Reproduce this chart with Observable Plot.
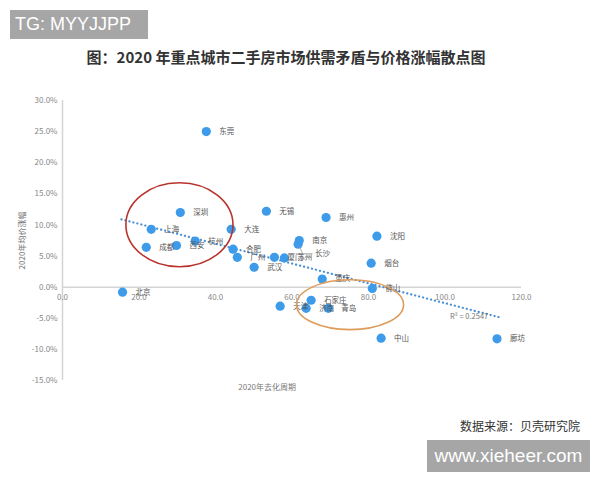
<!DOCTYPE html>
<html><head><meta charset="utf-8">
<script src="https://cdn.jsdelivr.net/npm/d3@7"></script>
<script src="https://cdn.jsdelivr.net/npm/@observablehq/plot@0.6"></script>
<style>
body{margin:0;background:#fff;font-family:"Noto Sans CJK SC",sans-serif;}
#wrap{position:relative;width:600px;height:480px;overflow:hidden;background:#fff;}
#chart{position:absolute;left:0;top:0;}
.tg{position:absolute;left:10px;top:10px;width:138px;height:29px;background:#a6a6a6;color:#fff;font:18px "Liberation Sans",Arial,sans-serif;line-height:29px;padding-left:5px;box-sizing:border-box;}
.title{position:absolute;left:0;width:572px;top:47px;text-align:center;font-weight:bold;font-size:15px;color:#333;line-height:20px;}
.src{position:absolute;right:20px;top:418px;font-size:12px;color:#333;line-height:16px;}
.wm{position:absolute;left:427px;top:440px;width:163px;height:32px;background:#a6a6a6;color:#fff;font:19px "Liberation Sans",Arial,sans-serif;line-height:32px;text-align:center;}
</style></head><body>
<div id="wrap">
  <div id="chart"></div>
  <div class="tg">TG: MYYJJPP</div>
  <div class="title">图：2020 年重点城市二手房市场供需矛盾与价格涨幅散点图</div>
  <div class="src">数据来源：贝壳研究院</div>
  <div class="wm">www.xieheer.com</div>
</div>
<script>
const cities   = ["东莞","深圳","上海","成都","西安","杭州","大连","合肥","广州","武汉","厦门","苏州","南京","长沙","无锡","惠州","沈阳","烟台","重庆","佛山","石家庄","天津","济南","青岛","中山","廊坊","北京"];
const destock  = [37.6,30.8,23.2,21.9,29.8,34.7,44.1,44.6,45.7,50.1,55.4,58.0,61.9,61.6,53.3,68.9,82.2,80.7,67.9,81.0,65.0,56.9,63.7,69.5,83.3,113.6,15.7];
const priceChg = [25.0,12.0,9.3,6.4,6.7,7.4,9.3,6.1,4.8,3.2,4.8,4.7,7.5,6.9,12.2,11.2,8.2,3.85,1.3,-0.2,-2.1,-3.05,-3.4,-3.4,-8.2,-8.3,-0.8];
const xTicks = [0,20,40,60,80,100,120];
const yTicks = [-15,-10,-5,0,5,10,15,20,25,30];
const trendX = [15.4,114];
const trendY = [10.9,-4.8];
const r2Label = "R² = 0.2547";
const r2Pos = [106.3,-4.65];
const xTitle = "2020年去化周期";
const yTitle = "2020年均价涨幅";
// annotation ellipses: [cx, cy, rx, ry] in data units
const redEllipse = [30.7, 9.95, 14.0, 6.74];
const orangeEllipse = [75.3, -2.9, 14.0, 4.0];

const data = cities.map((c,i)=>({city:c,x:destock[i],y:priceChg[i]}));
const trend = trendX.map((x,i)=>({x,y:trendY[i]}));
const blue = "#3d9be9";
const font = "Noto Sans CJK SC";

const plot = Plot.plot({
  width:600, height:480,
  marginLeft:62, marginRight:79, marginTop:100, marginBottom:100,
  style:{fontFamily:font, background:"transparent"},
  x:{domain:[0,120], axis:null},
  y:{domain:[-15,30], axis:null},
  marks:[
    Plot.ruleX([0],{y1:-15,y2:30,stroke:"#d4d4d4",strokeWidth:1.5}),
    Plot.ruleY([0],{x1:0,x2:120,stroke:"#d4d4d4",strokeWidth:1.5}),
    Plot.axisY(yTicks,{tickSize:0,tickPadding:5,tickFormat:d=>d.toFixed(1)+"%",fill:"#888",fontSize:8,label:null}),
    Plot.text(xTicks,{x:d=>d,y:0,text:d=>d.toFixed(1),dy:10,fill:"#888",fontSize:8}),
    Plot.text([xTitle],{x:53.5,y:-15,text:d=>d,fill:"#777",fontSize:8,dy:7}),
    Plot.text([yTitle],{x:0,y:7.5,dx:-40,rotate:-90,text:d=>d,fill:"#777",fontSize:8}),
    Plot.line(trend,{x:"x",y:"y",stroke:"#4a8fd4",strokeWidth:2.2,strokeDasharray:"0.1,4",strokeLinecap:"round"}),
    Plot.dot(data,{x:"x",y:"y",r:4.6,fill:blue}),
    Plot.text(data.filter(d=>d.city!=="长沙"),{x:"x",y:"y",text:"city",textAnchor:"start",dx:13,fill:"#555",fontSize:7.5}),
    Plot.text(data.filter(d=>d.city==="长沙"),{x:"x",y:"y",text:"city",textAnchor:"start",dx:17,dy:9,fill:"#555",fontSize:7.5}),
    Plot.text([r2Label],{x:r2Pos[0],y:r2Pos[1],text:d=>d,fill:"#777",fontSize:7.5})
  ]
});
document.getElementById("chart").appendChild(plot);
const sx = plot.scale("x"), sy = plot.scale("y");
const svg = d3.select(plot);
[[redEllipse,"#b8332c"],[orangeEllipse,"#de9b5a"]].forEach(([e,c])=>{
  const cx = sx.apply(e[0]), cy = sy.apply(e[1]);
  svg.append("ellipse")
    .attr("cx",cx).attr("cy",cy)
    .attr("rx",Math.abs(sx.apply(e[0]+e[2])-cx))
    .attr("ry",Math.abs(sy.apply(e[1]+e[3])-cy))
    .attr("fill","none").attr("stroke",c).attr("stroke-width",1.6);
});
// leader line for 长沙
const cs = data.find(d=>d.city==="长沙");
const px = sx.apply(cs.x), py = sy.apply(cs.y);
svg.append("polyline").attr("points",`${px+2},${py+3} ${px+5},${py+10} ${px+15},${py+10}`)
  .attr("fill","none").attr("stroke","#999").attr("stroke-width",0.8);
</script>
</body></html>
